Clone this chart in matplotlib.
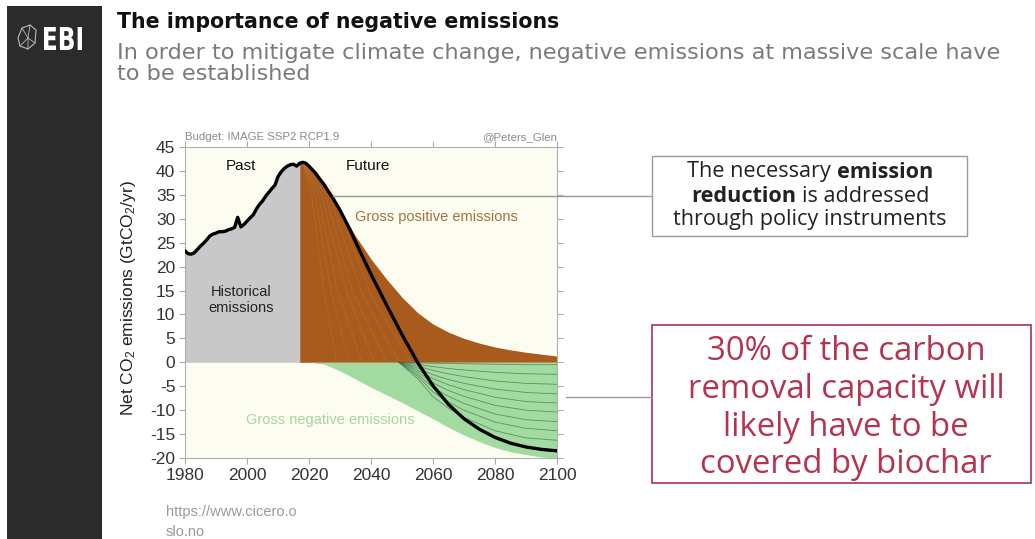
import matplotlib.pyplot as plt
import numpy as np
from matplotlib.textpath import TextPath
from matplotlib.font_manager import FontProperties
from matplotlib.patches import PathPatch, Rectangle, Polygon
from matplotlib.transforms import Affine2D

plt.rcParams['font.family'] = ['Liberation Sans', 'DejaVu Sans']
plt.rcParams['mathtext.fontset'] = 'custom'
plt.rcParams['mathtext.rm'] = 'Liberation Sans'
plt.rcParams['mathtext.it'] = 'Liberation Sans:italic'

# ---- data ----
hist_years = list(range(1980, 2018))
hist_net = [23.3, 22.7, 22.6, 22.9, 23.6, 24.3, 24.9, 25.6, 26.4, 26.8,
            27.0, 27.3, 27.3, 27.4, 27.7, 27.9, 28.2, 30.3, 28.3, 28.8,
            29.5, 30.2, 30.8, 32.0, 33.0, 33.7, 34.7, 35.5, 36.3, 37.0,
            38.8, 39.8, 40.5, 41.0, 41.3, 41.4, 41.0, 41.6]

fut_years = [2017, 2018, 2019, 2020, 2022, 2025, 2028, 2030, 2033, 2035, 2040, 2045,
             2050, 2055, 2060, 2065, 2070, 2075, 2080, 2085, 2090, 2095, 2100]
fut_net = [41.6, 41.8, 41.6, 41.0, 39.6, 37.0, 34.0, 31.8, 28.0, 25.2, 18.4, 12.0,
           5.8, 0.0, -4.9, -8.8, -11.8, -14.0, -15.7, -16.9, -17.7, -18.2, -18.5]
gross_pos = [41.6, 41.8, 41.6, 41.0, 39.6, 37.0, 34.0, 31.8, 28.6, 26.4, 21.6, 17.4,
             13.6, 10.4, 8.0, 6.3, 5.0, 4.0, 3.2, 2.6, 2.1, 1.7, 1.3]

neg_years = [2020, 2025, 2030, 2035, 2040, 2045, 2050, 2055, 2060, 2065, 2070,
             2075, 2080, 2085, 2090, 2095, 2100]
gross_neg = [0.0, -0.4, -1.8, -3.5, -5.2, -6.8, -8.4, -10.1, -11.8, -13.6, -15.2,
             -16.6, -17.8, -18.7, -19.3, -19.8, -20.0]

# thin scenario lines inside the gross positive area
fan_years = [[2018, 2021, 2025, 2029], [2018, 2022, 2027, 2033], [2018, 2023, 2029, 2037],
             [2018, 2024, 2032, 2041], [2018, 2025, 2034, 2045], [2018, 2026, 2037, 2049],
             [2018, 2027, 2040, 2053]]
fan_vals = [[41.8, 34.0, 14.0, 0.0], [41.8, 34.5, 15.0, 0.0], [41.8, 35.0, 15.5, 0.0],
            [41.8, 35.0, 15.0, 0.0], [41.8, 35.5, 15.0, 0.0], [41.8, 36.0, 14.5, 0.0],
            [41.8, 36.5, 14.0, 0.0]]

# thin scenario lines inside the gross negative area
neg_line_years = [2049, 2055, 2060, 2065, 2070, 2080, 2090, 2100]
neg_lines = [[0, -0.1, -0.2, -0.2, -0.3, -0.4, -0.5, -0.5],
             [0, -0.4, -0.9, -1.3, -1.6, -2.1, -2.4, -2.5],
             [0, -0.8, -1.7, -2.4, -3.0, -3.9, -4.4, -4.6],
             [0, -1.2, -2.6, -3.6, -4.4, -5.6, -6.3, -6.6],
             [0, -1.6, -3.4, -4.7, -5.7, -7.3, -8.2, -8.5],
             [0, -2.0, -4.3, -5.9, -7.1, -9.0, -10.0, -10.4],
             [0, -2.5, -5.3, -7.1, -8.6, -10.8, -12.0, -12.4],
             [0, -2.9, -6.2, -8.3, -10.0, -12.5, -13.8, -14.3],
             [0, -3.4, -7.2, -9.6, -11.5, -14.3, -15.8, -16.3]]

x_ticks = [1980, 2000, 2020, 2040, 2060, 2080, 2100]
y_ticks = [45, 40, 35, 30, 25, 20, 15, 10, 5, 0, -5, -10, -15, -20]
y_labels = [str(v) for v in y_ticks]

# ---- figure ----
W, H = 1035, 539
fig = plt.figure(figsize=(W / 100, H / 100), dpi=100)
fig.patch.set_facecolor('white')

ax = fig.add_axes([185 / W, 1 - 458 / H, 372 / W, 311 / H])
ax.set_facecolor('#fdfcf1')
ax.fill_between(hist_years, 0, hist_net, color='#c8c8c8', lw=0, zorder=1)
ax.fill_between(fut_years, 0, gross_pos, color='#a85b1d', lw=0, zorder=1)
ax.fill_between(neg_years, gross_neg, 0, color='#a2dba0', lw=0, zorder=1)

for xs, ys in zip(fan_years, fan_vals):
    ax.plot(xs, ys, color='#c98b55', lw=0.6, alpha=0.3, zorder=2)
for ys in neg_lines:
    ax.plot(neg_line_years, ys, color='#3d6344', lw=0.6, alpha=0.65, zorder=2)

ax.plot(hist_years + fut_years[1:], hist_net + fut_net[1:], color='black', lw=2.4,
        zorder=4, solid_capstyle='round', solid_joinstyle='round')

ax.set_xlim(1980, 2100)
ax.set_ylim(-20, 45)
ax.set_xticks(x_ticks)
ax.set_yticks(y_ticks)
ax.set_yticklabels(y_labels)
ax.tick_params(direction='out', length=4, width=0.8, color='#aaaaaa', top=True, right=True,
               labelsize=12.5, labelcolor='#333333', pad=3)
for s in ax.spines.values():
    s.set_color('#b0b0b0')
    s.set_linewidth(0.8)

ax.text(1998, 41, 'Past', fontsize=11, ha='center', va='center', color='#111111', zorder=5)
ax.text(2039, 41, 'Future', fontsize=11, ha='center', va='center', color='#111111', zorder=5)
ax.text(1998, 13, 'Historical\nemissions', fontsize=10.5, ha='center', va='center',
        color='#222222', linespacing=1.15, zorder=5)
ax.text(2061, 30.3, 'Gross positive emissions', fontsize=10.5, ha='center', va='center',
        color='#a2733f', zorder=5)
ax.text(2027, -12.1, 'Gross negative emissions', fontsize=10.5, ha='center', va='center',
        color='#a6d6a0', zorder=5)

# ---- overlay in pixel coordinates ----
ov = fig.add_axes([0, 0, 1, 1], zorder=10)
ov.set_xlim(0, W)
ov.set_ylim(H, 0)
ov.axis('off')
ov.patch.set_visible(False)
r = fig.canvas.get_renderer()


def text_w(s, size, family='Open Sans', **kw):
    t = ov.text(0, 0, s, fontsize=size, family=family, **kw)
    w = t.get_window_extent(r).width
    t.remove()
    return w


def fit(s, target, **kw):
    return 14 * target / text_w(s, 14, **kw)


def put_line(pieces, cx, cy, size, color):
    gap = text_w('x x', size) - text_w('xx', size)
    widths = [text_w(s, size, fontweight=wt) for s, wt in pieces]
    x = cx - (sum(widths) + gap * (len(pieces) - 1)) / 2
    for (s, wt), w in zip(pieces, widths):
        ov.text(x, cy, s, fontsize=size, fontweight=wt, color=color,
                family='Open Sans', va='center', ha='left')
        x += w + gap


# left dark bar and logo
ov.add_patch(Rectangle((7, 6), 95, H, color='#2b2b2b', lw=0))
tp = TextPath((0, 0), 'EBI', size=1, prop=FontProperties(family='DejaVu Sans', weight='bold'))
bb = tp.get_extents()
tr = Affine2D().translate(-bb.x0, -bb.y0).scale(38 / bb.width, -23 / bb.height).translate(44, 50)
ov.add_patch(PathPatch(tr.transform_path(tp), fc='white', lw=0))
gem = [(18, 38), (22, 28), (30, 25), (36, 30), (35, 43), (28, 49), (20, 46)]
ov.add_patch(Polygon(gem, closed=True, fill=False, ec='#bbbbbb', lw=0.8))
ov.plot([22, 28, 35], [28, 38, 43], color='#bbbbbb', lw=0.6)
ov.plot([28, 30], [38, 25], color='#bbbbbb', lw=0.6)
ov.plot([20, 28, 28], [46, 38, 49], color='#bbbbbb', lw=0.6)

# title and subtitle
title = 'The importance of negative emissions'
sub1 = 'In order to mitigate climate change, negative emissions at massive scale have'
sub2 = 'to be established'
ov.text(117, 22, title, fontsize=fit(title, 443, family='DejaVu Sans', fontweight='bold'),
        family='DejaVu Sans', fontweight='bold', color='#111111', va='center')
s_sub = fit(sub1, 883, family='DejaVu Sans')
ov.text(117, 53, sub1, fontsize=s_sub, family='DejaVu Sans', color='#7a7a7a', va='center')
ov.text(117, 74, sub2, fontsize=s_sub, family='DejaVu Sans', color='#7a7a7a', va='center')

# chart headers and source
ov.text(185, 137, 'Budget: IMAGE SSP2 RCP1.9', fontsize=8.2, color='#8a8a8a', va='center')
ov.text(557, 137, '@Peters_Glen', fontsize=8.2, color='#8a8a8a', va='center', ha='right')
ov.text(128, 298, 'Net CO$_2$ emissions (GtCO$_2$/yr)', fontsize=12.5, rotation=90,
        ha='center', va='center', color='#222222')
ov.text(166, 512, 'https://www.cicero.o', fontsize=10.5, color='#9a9a9a', va='center')
ov.text(166, 532, 'slo.no', fontsize=10.5, color='#9a9a9a', va='center')

# callout 1
ov.plot([333, 652], [196, 196], color='#9a9a9a', lw=1)
ov.add_patch(Rectangle((652, 156), 315, 80, fill=False, ec='#9a9a9a', lw=1))
s1 = fit('through policy instruments', 274)
put_line([('The necessary', 'normal'), ('emission', 'bold')], 810, 172, s1, '#222222')
put_line([('reduction', 'bold'), ('is addressed', 'normal')], 810, 196, s1, '#222222')
put_line([('through policy instruments', 'normal')], 810, 220, s1, '#222222')

# callout 2
ov.plot([566, 652], [397, 397], color='#9a9a9a', lw=1)
ov.add_patch(Rectangle((652, 325), 379, 158, fill=False, ec='#a8334b', lw=1.2))
s2 = fit('removal capacity will', 319)
red_lines = ['30% of the carbon', 'removal capacity will', 'likely have to be', 'covered by biochar']
for i, line in enumerate(red_lines):
    ov.text(846, 352 + i * 37.5, line, fontsize=s2, family='Open Sans', color='#b43450',
            ha='center', va='center')

fig.savefig('out.png', dpi=100)
